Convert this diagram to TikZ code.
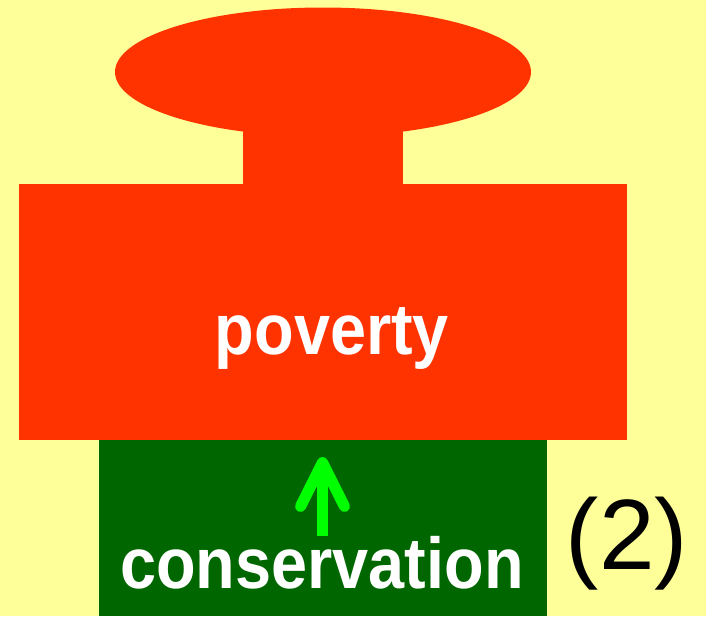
\documentclass[tikz,border=0pt]{standalone}
\usepackage{fontspec}
\setmainfont{Liberation Sans}
\usepackage{xcolor}
\usepackage{tikz}
\usetikzlibrary{positioning,arrows.meta,shapes.geometric}
\definecolor{paper}{HTML}{FFFF99}
\definecolor{burden}{HTML}{FF3300}
\definecolor{support}{HTML}{006600}
\definecolor{lift}{HTML}{00FF00}
\tikzset{
  weightpart/.style={
    fill=burden, draw=none, inner sep=0pt, anchor=north west},
  basebox/.style={
    fill=support, draw=none, inner sep=0pt, anchor=north west},
  bigword/.style={
    text=white, font=\fontsize{72}{72}\selectfont\bfseries,
    inner sep=0pt, anchor=base, xscale=0.9},
  pushup/.style={
    draw=lift, line width=11pt,
    -{Straight Barb[round, length=44pt, width=44pt]}},
}

\begin{document}
\begin{tikzpicture}[x=1pt, y=-1pt]

  \fill[paper] (0,0) rectangle (706,616);
  \useasboundingbox (0,0) rectangle (706,616);

  \node[ellipse, fill=burden, inner sep=0pt,
        minimum width=416pt, minimum height=129pt] (cap) at (323,72) {};
  \node[weightpart, minimum width=160pt, minimum height=90pt] (stem) at (243,100) {};
  \node[weightpart, minimum width=608pt, minimum height=256pt] (pov) at (19,184) {};
  \node[basebox, minimum width=448pt, minimum height=176pt] (cons) at (99,440) {};

  \coordinate (push base) at (322.5,536);
  \coordinate (push tip) at (322.5,457);
  \draw[pushup] (push base) -- (push tip);

  \node[bigword] (povtext) at (332,354) {poverty};
  \node[bigword] (constext) at (322,588) {conservation};
  \node[font=\fontsize{100}{100}\selectfont, inner sep=0pt, anchor=base]
    (num) at (627,569) {(2)};

\end{tikzpicture}
\end{document}
